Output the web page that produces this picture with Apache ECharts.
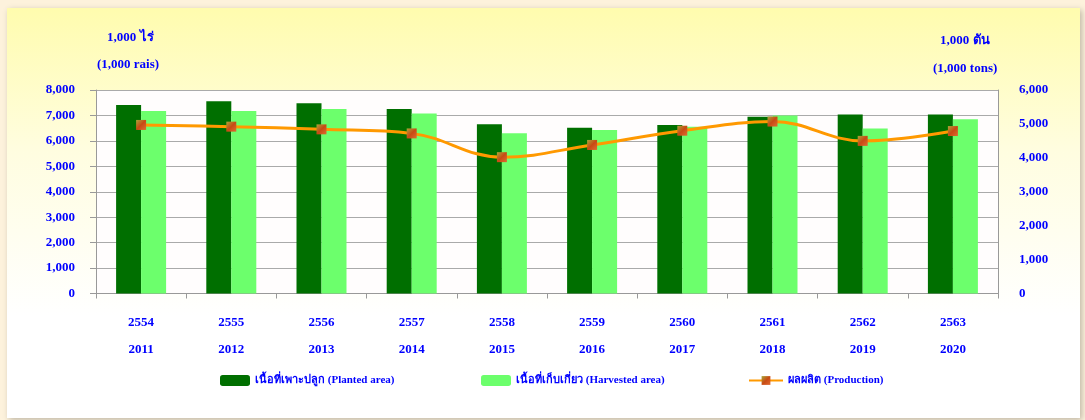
<!DOCTYPE html>
<html>
<head>
<meta charset="utf-8">
<script src="https://cdn.jsdelivr.net/npm/echarts@6/dist/echarts.min.js"></script>
<style>
html,body{margin:0;padding:0;background:#fdf2dc;}
#c{width:1085px;height:420px;}
</style>
</head>
<body>
<div id="c"></div>
<script>
const thaiYears = ['2554','2555','2556','2557','2558','2559','2560','2561','2562','2563'];
const years = ['2011','2012','2013','2014','2015','2016','2017','2018','2019','2020'];
const planted = [7410, 7560, 7480, 7250, 6650, 6520, 6620, 6950, 7040, 7040];
const harvested = [7170, 7170, 7250, 7080, 6300, 6430, 6560, 7000, 6490, 6850];
const production = [4970, 4920, 4840, 4720, 4020, 4380, 4800, 5070, 4500, 4790];
const seriesNames = ['เนื้อที่เพาะปลูก (Planted area)', 'เนื้อที่เก็บเกี่ยว (Harvested area)', 'ผลผลิต (Production)'];
const leftUnit = ['1,000 ไร่', '(1,000 rais)'];
const rightUnit = ['1,000 ตัน', '(1,000 tons)'];

const FONT = '"Liberation Serif", "Times New Roman", "Noto Sans", serif';
const BLUE = '#0000ff';
const categories = thaiYears.map((t, i) => t + '\n' + years[i]);

const chart = echarts.init(document.getElementById('c'), null, {renderer: 'canvas'});
const legendStyle = {color: BLUE, fontFamily: FONT, fontWeight: 'bold', fontSize: 11};
chart.setOption({
  backgroundColor: '#fdf2dc',
  animation: false,
  graphic: [
    {type: 'rect', left: 7, top: 8, z: -10, shape: {width: 1073, height: 410},
      style: {fill: new echarts.graphic.LinearGradient(0, 0, 0, 1, [
        {offset: 0, color: '#fffcae'}, {offset: 0.35, color: '#fffde0'}, {offset: 0.75, color: '#ffffff'}, {offset: 1, color: '#ffffff'}]),
        shadowColor: 'rgba(0,0,0,0.25)', shadowBlur: 6, shadowOffsetX: 2, shadowOffsetY: 2}},
    {type: 'text', left: 107, top: 31, style: {text: leftUnit[0], fill: BLUE, font: 'bold 13px ' + FONT}},
    {type: 'text', left: 97, top: 58, style: {text: leftUnit[1], fill: BLUE, font: 'bold 13px ' + FONT}},
    {type: 'text', left: 940, top: 34, style: {text: rightUnit[0], fill: BLUE, font: 'bold 13px ' + FONT}},
    {type: 'text', left: 933, top: 62, style: {text: rightUnit[1], fill: BLUE, font: 'bold 13px ' + FONT}}
  ],
  grid: {left: 96, right: 87, top: 90, bottom: 126.5, show: true, backgroundColor: '#fffdfd', borderWidth: 0},
  legend: [
    {data: [seriesNames[0]], left: 220, top: 375, padding: 0, itemWidth: 30, itemHeight: 11, itemGap: 2, textStyle: legendStyle},
    {data: [seriesNames[1]], left: 481, top: 375, padding: 0, itemWidth: 30, itemHeight: 11, itemGap: 2, textStyle: legendStyle},
    {data: [seriesNames[2]], left: 748, top: 375, padding: 0, itemWidth: 34, itemHeight: 11, itemGap: 2, textStyle: legendStyle}
  ],
  xAxis: {
    type: 'category', data: categories,
    axisLine: {lineStyle: {color: '#999999', width: 1}},
    axisTick: {show: true, length: 5, lineStyle: {color: '#999999'}},
    axisLabel: {color: BLUE, fontFamily: FONT, fontWeight: 'bold', fontSize: 13, margin: 16, lineHeight: 27}
  },
  yAxis: [
    {type: 'value', min: 0, max: 8000, interval: 1000, position: 'left',
      axisLine: {show: true, lineStyle: {color: '#999999'}},
      axisTick: {show: true, length: 6, lineStyle: {color: '#999999'}},
      splitLine: {lineStyle: {color: '#aaaaaa', width: 1}},
      axisLabel: {color: BLUE, fontFamily: FONT, fontWeight: 'bold', fontSize: 13, margin: 21,
        formatter: v => v.toLocaleString('en-US')}},
    {type: 'value', min: 0, max: 6000, interval: 1000, position: 'right',
      axisLine: {show: true, lineStyle: {color: '#999999'}},
      axisTick: {show: false},
      splitLine: {show: false},
      axisLabel: {color: BLUE, fontFamily: FONT, fontWeight: 'bold', fontSize: 13, margin: 21,
        formatter: v => v.toLocaleString('en-US')}}
  ],
  series: [
    {name: seriesNames[0], type: 'bar', data: planted, barWidth: 25, barGap: '0%',
      itemStyle: {color: '#006f00'}},
    {name: seriesNames[1], type: 'bar', data: harvested, barWidth: 25,
      itemStyle: {color: '#6cff6c'}},
    {name: seriesNames[2], type: 'line', yAxisIndex: 1, data: production, smooth: 0.4,
      symbol: 'rect', symbolSize: 10, z: 5,
      lineStyle: {color: '#ff9900', width: 3},
      itemStyle: {color: new echarts.graphic.LinearGradient(0, 0, 1, 1, [
        {offset: 0, color: '#a8a838'}, {offset: 0.5, color: '#c84a14'}, {offset: 1, color: '#e06a30'}]),
        borderColor: '#ff9900', borderWidth: 0}}
  ]
});
</script>
</body>
</html>
